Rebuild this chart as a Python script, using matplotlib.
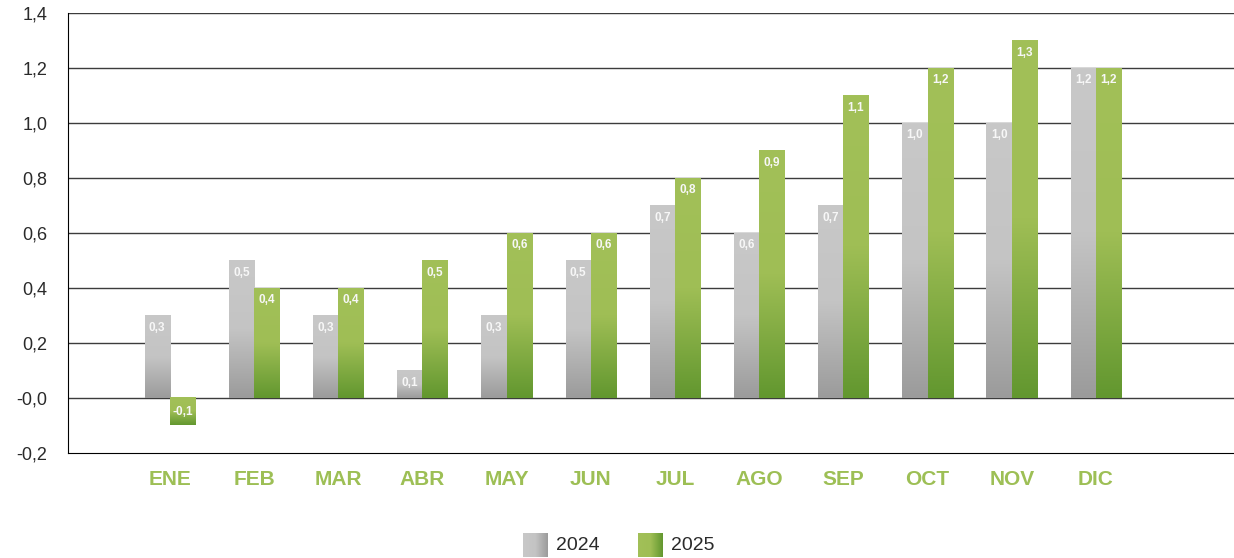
import numpy as np
import matplotlib
matplotlib.use('Agg')
import matplotlib.pyplot as plt
from matplotlib.colors import LinearSegmentedColormap

meses = ['ENE', 'FEB', 'MAR', 'ABR', 'MAY', 'JUN', 'JUL', 'AGO', 'SEP', 'OCT', 'NOV', 'DIC']
v2024 = [0.3, 0.5, 0.3, 0.1, 0.3, 0.5, 0.7, 0.6, 0.7, 1.0, 1.0, 1.2]
v2025 = [-0.1, 0.4, 0.4, 0.5, 0.6, 0.6, 0.8, 0.9, 1.1, 1.2, 1.3, 1.2]
yticks = [-0.2, 0.0, 0.2, 0.4, 0.6, 0.8, 1.0, 1.2, 1.4]
ylabels = ['-0,2', '-0,0', '0,2', '0,4', '0,6', '0,8', '1,0', '1,2', '1,4']

plt.rcParams['font.family'] = ['Liberation Sans', 'DejaVu Sans']

gris = LinearSegmentedColormap.from_list('gris', ['#c8c8c8', '#c4c4c4', '#9b9b9b'])
verde = LinearSegmentedColormap.from_list('verde', ['#a2c058', '#9fbe55', '#62972f'])
grad = np.linspace(0, 1, 256).reshape(-1, 1)

fig = plt.figure(figsize=(12.34, 5.58), dpi=100)
ax = fig.add_axes([68 / 1234, 105 / 558, 1 - 68 / 1234, 440 / 558])

x = np.arange(len(meses))
w = 0.3


def barra(x0, val, cmap):
    top = max(val, 0)
    bot = min(val, 0)
    # gradiente: claro arriba, oscuro abajo
    ax.imshow(grad, cmap=cmap, extent=(x0, x0 + w, bot, top), origin='upper',
              aspect='auto', zorder=3, interpolation='bilinear')
    if val >= 0:
        ty = val - 0.045
    else:
        ty = val / 2
    ax.text(x0 + w / 2, ty, f'{val:.1f}'.replace('.', ','), ha='center', va='center',
            color='#f7f7f7', fontsize=8.5, fontweight='bold', zorder=4)


for i in range(len(meses)):
    barra(x[i] - w, v2024[i], gris)
    barra(x[i], v2025[i], verde)

ax.set_xlim(-1.21, 12.64)
ax.set_ylim(-0.2, 1.4)
ax.set_yticks(yticks)
ax.set_yticklabels(ylabels, fontsize=13, color='#2a2a2a')
ax.set_xticks(x)
ax.set_xticklabels(meses, fontsize=15, fontweight='bold', color='#9dbf55')
ax.tick_params(axis='y', length=0, pad=15)
ax.tick_params(axis='x', length=0, pad=12)
for yv in yticks[1:]:
    ax.axhline(yv, color='#3c3c3c', linewidth=1, zorder=1)
ax.spines['top'].set_visible(False)
ax.spines['right'].set_visible(False)
ax.spines['left'].set_color('black')
ax.spines['bottom'].set_color('black')

# leyenda
hgrad = np.linspace(0, 1, 256).reshape(1, -1)
for px, cmap, lab in [(523, gris, '2024'), (638, verde, '2025')]:
    lax = fig.add_axes([px / 1234, 1 / 558, 25 / 1234, 24 / 558])
    lax.imshow(hgrad, cmap=cmap, aspect='auto', interpolation='bilinear')
    lax.axis('off')
    fig.text((px + 33) / 1234, 12 / 558, lab, fontsize=14, color='#2a2a2a', va='center')

fig.savefig('out.png', dpi=100)
